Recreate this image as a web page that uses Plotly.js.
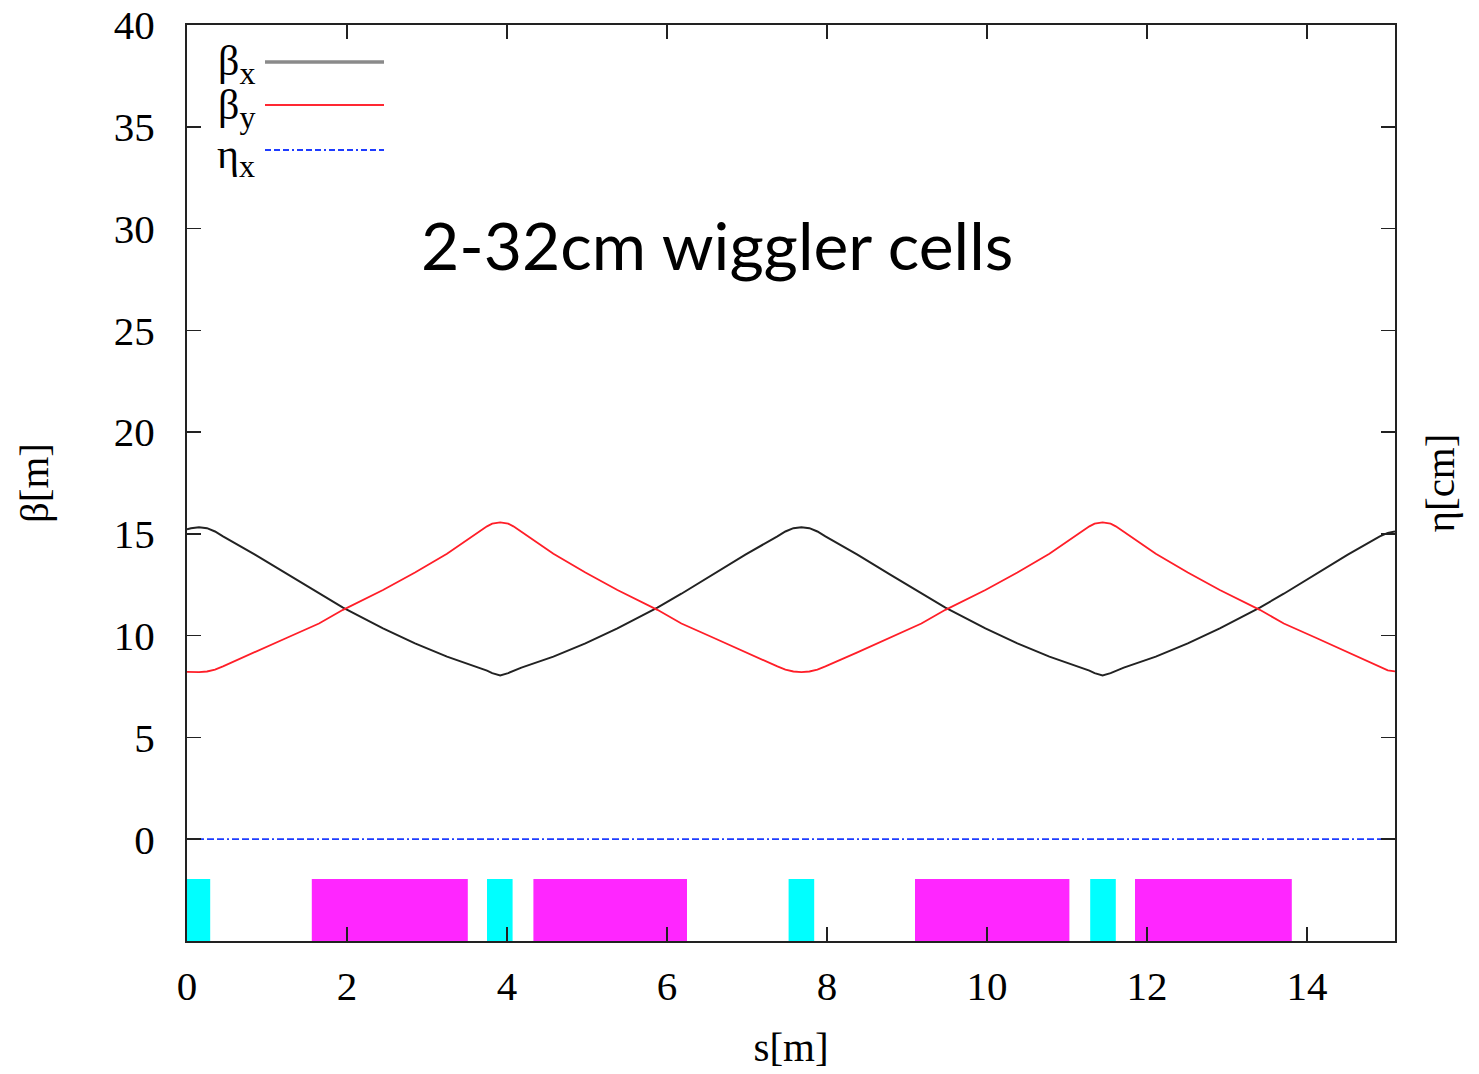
<!DOCTYPE html>
<html><head><meta charset="utf-8">
<script src="https://cdn.plot.ly/plotly-3.0.1.min.js"></script>
<style>html,body{margin:0;padding:0;background:#fff}#chart{width:1479px;height:1074px}</style>
</head><body><div id="chart"></div>
<script>
// lattice functions
const s = [0, 0.05, 0.15, 0.25, 0.35, 0.45, 0.85, 1.25, 1.65, 1.95, 2.45, 2.85, 3.25, 3.65, 3.75, 3.815, 3.915,
  4.015, 4.08, 4.18, 4.58, 4.98, 5.38, 5.88, 6.18, 6.58, 6.98, 7.38, 7.48, 7.58, 7.68,
  7.78, 7.88, 7.98, 8.38, 8.78, 9.18, 9.48, 9.98, 10.38, 10.78, 11.18, 11.28, 11.345, 11.445,
  11.545, 11.61, 11.71, 12.11, 12.51, 12.91, 13.41, 13.71, 14.11, 14.51, 14.91, 15.01, 15.1];
const betaX = [15.22, 15.28, 15.33, 15.28, 15.12, 14.88, 13.98, 13.02, 12.06, 11.38, 10.36, 9.62, 8.97, 8.43, 8.28, 8.16, 8.05,
  8.16, 8.28, 8.43, 8.97, 9.62, 10.36, 11.38, 12.06, 13.02, 13.98, 14.88, 15.12, 15.28, 15.33,
  15.28, 15.12, 14.88, 13.98, 13.02, 12.06, 11.38, 10.36, 9.62, 8.97, 8.43, 8.28, 8.16, 8.05,
  8.16, 8.28, 8.43, 8.97, 9.62, 10.36, 11.38, 12.06, 13.02, 13.98, 14.88, 15.05, 15.12];
const betaY = [8.22, 8.21, 8.21, 8.24, 8.33, 8.49, 9.18, 9.9, 10.6, 11.27, 12.24, 13.1, 14.02, 15.1, 15.37, 15.5, 15.57,
  15.5, 15.37, 15.1, 14.02, 13.1, 12.24, 11.27, 10.6, 9.9, 9.18, 8.49, 8.33, 8.24, 8.21,
  8.24, 8.33, 8.49, 9.18, 9.9, 10.6, 11.27, 12.24, 13.1, 14.02, 15.1, 15.37, 15.5, 15.57,
  15.5, 15.37, 15.1, 14.02, 13.1, 12.24, 11.27, 10.6, 9.9, 9.18, 8.49, 8.3, 8.25];
const etaS = [0, 15.1];
const etaX = [0, 0];

// lattice elements (quadrupoles cyan, wigglers magenta)
const quadStart = [0, 3.75, 7.52, 11.29];
const quadEnd = [0.29, 4.07, 7.84, 11.61];
const wigStart = [1.56, 4.33, 9.10, 11.85];
const wigEnd = [3.51, 6.25, 11.03, 13.81];
const elemBottom = -5;
const elemTop = -1.95;

const xTicks = [0, 2, 4, 6, 8, 10, 12, 14];
const yTicks = [0, 5, 10, 15, 20, 25, 30, 35, 40];

const serif = "Liberation Serif, Times New Roman, serif";
const mid = (a, b) => a.map((v, i) => (v + b[i]) / 2);
const wid = (a, b) => a.map((v, i) => b[i] - v);

const traces = [
  {type: 'bar', x: mid(quadStart, quadEnd), width: wid(quadStart, quadEnd),
   y: quadStart.map(() => elemTop - elemBottom), base: elemBottom,
   marker: {color: '#00ffff', line: {width: 0}}, showlegend: false, hoverinfo: 'skip'},
  {type: 'bar', x: mid(wigStart, wigEnd), width: wid(wigStart, wigEnd),
   y: wigStart.map(() => elemTop - elemBottom), base: elemBottom,
   marker: {color: '#ff26ff', line: {width: 0}}, showlegend: false, hoverinfo: 'skip'},
  {type: 'scatter', mode: 'lines', x: s, y: betaX, name: 'βx',
   line: {color: '#222222', width: 2}, showlegend: false},
  {type: 'scatter', mode: 'lines', x: s, y: betaY, name: 'βy',
   line: {color: 'rgb(255,30,40)', width: 1.8}, showlegend: false},
  {type: 'scatter', mode: 'lines', x: etaS, y: etaX, name: 'ηx', yaxis: 'y2',
   line: {color: 'rgb(30,60,255)', width: 1.8, dash: '7px,3px,7px,3px,7px,3px,7px,3px,2px,3px'}, showlegend: false}
];

const L = 187, R = 84, T = 25, B = 133, W = 1479, H = 1074;
const pw = W - L - R, ph = H - T - B;
const px = v => (v - L) / pw;
const py = v => (H - B - v) / ph;

const sub = t => '<sub><span style="font-size:32px">' + t + '</span></sub>';
const legendItems = [
  {label: 'β' + sub('x'), ly: 64, lineY: 62, color: '#8a8a8a', width: 3.5, dash: 'solid'},
  {label: 'β' + sub('y'), ly: 109, lineY: 105, color: 'rgb(255,40,50)', width: 1.8, dash: 'solid'},
  {label: 'η' + sub('x'), ly: 157, lineY: 150, color: 'rgb(30,60,255)', width: 2, dash: '6px,3px,6px,3px,6px,3px,2px,3px'}
];

const annotations = legendItems.map(it => ({
  xref: 'paper', yref: 'paper', x: px(257), y: py(it.ly), xanchor: 'right', yanchor: 'middle',
  text: it.label, showarrow: false, font: {family: serif, size: 42, color: '#000'}
}));
annotations.push({
  xref: 'x', yref: 'y', x: 6.62, y: 29.2, xanchor: 'center', yanchor: 'middle',
  text: '2-32cm wiggler cells', showarrow: false,
  font: {family: 'Lato, Carlito, Calibri, sans-serif', size: 66, color: '#000'}
});

const shapes = legendItems.map(it => ({
  type: 'line', xref: 'paper', yref: 'paper', x0: px(265), x1: px(384), y0: py(it.lineY), y1: py(it.lineY),
  line: {color: it.color, width: it.width, dash: it.dash}
}));

const axisCommon = {
  showgrid: false, zeroline: false, showline: true, linecolor: '#222', linewidth: 2,
  ticks: 'inside', ticklen: 14, tickwidth: 1.5, tickcolor: '#222', mirror: 'ticks',
  tickfont: {family: serif, size: 41, color: '#000'}
};

const layout = {
  width: W, height: H, margin: {l: L, r: R, t: T, b: B},
  paper_bgcolor: '#fff', plot_bgcolor: '#fff', showlegend: false, barmode: 'overlay',
  xaxis: Object.assign({}, axisCommon, {range: [0, 15.1], tickvals: xTicks, ticktext: xTicks.map(String),
    ticklabelstandoff: 8,
    title: {text: 's[m]', font: {family: serif, size: 41, color: '#000'}, standoff: 24}}),
  yaxis: Object.assign({}, axisCommon, {range: [-5, 40], tickvals: yTicks, ticktext: yTicks.map(String),
    ticklabelstandoff: 22,
    title: {text: 'β[m]', font: {family: serif, size: 41, color: '#000'}, standoff: 52}}),
  yaxis2: {overlaying: 'y', side: 'right', range: [-5, 40], showgrid: false, zeroline: false,
    showline: false, ticks: '', showticklabels: false,
    title: {text: 'η[cm]', font: {family: serif, size: 41, color: '#000'}, standoff: 30}},
  annotations: annotations, shapes: shapes
};

Plotly.newPlot('chart', traces, layout, {displayModeBar: false, staticPlot: true});
</script></body></html>
